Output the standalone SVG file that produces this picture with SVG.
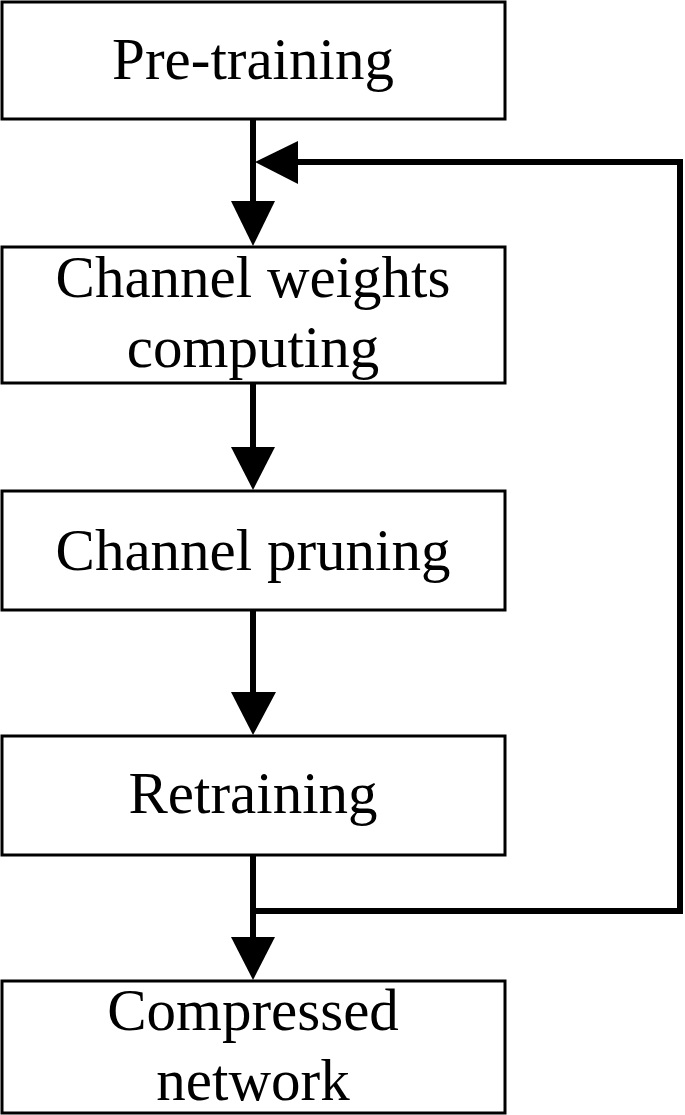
<svg xmlns="http://www.w3.org/2000/svg" width="685" height="1115" viewBox="0 0 685 1115">
<style>
.box{fill:#fff;stroke:#000;stroke-width:3}
.lbl{font-family:"Liberation Serif","Times New Roman",serif;font-size:59px;fill:#000;text-anchor:middle}
.ln{fill:none;stroke:#000;stroke-width:6}
.ah{fill:#000;stroke:none}
</style>
<rect width="685" height="1115" fill="#fff"/>
<g id="connectors">
<line class="ln" x1="253" y1="119" x2="253" y2="203"/>
<polygon class="ah" points="231,201 275,201 253,246"/>
<line class="ln" x1="253" y1="383" x2="253" y2="449"/>
<polygon class="ah" points="231,447 275,447 253,490"/>
<line class="ln" x1="253" y1="610" x2="253" y2="694"/>
<polygon class="ah" points="231,692 276,692 253,735"/>
<line class="ln" x1="253" y1="855" x2="253" y2="939"/>
<polygon class="ah" points="231,937 275,937 253,980"/>
<polyline class="ln" points="253,911 680,911 680,162 296,162"/>
<polygon class="ah" points="298,141 298,184 255,162"/>
</g>
<g id="pretraining">
<rect class="box" x="2" y="2" width="503" height="117"/>
<text class="lbl" x="253" y="79">Pre-training</text>
</g>
<g id="channel-weights">
<rect class="box" x="2" y="247" width="503" height="136"/>
<text class="lbl" x="253" y="297">Channel weights</text>
<text class="lbl" x="253" y="367">computing</text>
</g>
<g id="channel-pruning">
<rect class="box" x="2" y="491" width="503" height="119"/>
<text class="lbl" x="253" y="570">Channel pruning</text>
</g>
<g id="retraining">
<rect class="box" x="2" y="736" width="503" height="119"/>
<text class="lbl" x="253" y="813">Retraining</text>
</g>
<g id="compressed">
<rect class="box" x="2" y="981" width="503" height="132"/>
<text class="lbl" x="253" y="1030">Compressed</text>
<text class="lbl" x="253" y="1100">network</text>
</g>
</svg>
